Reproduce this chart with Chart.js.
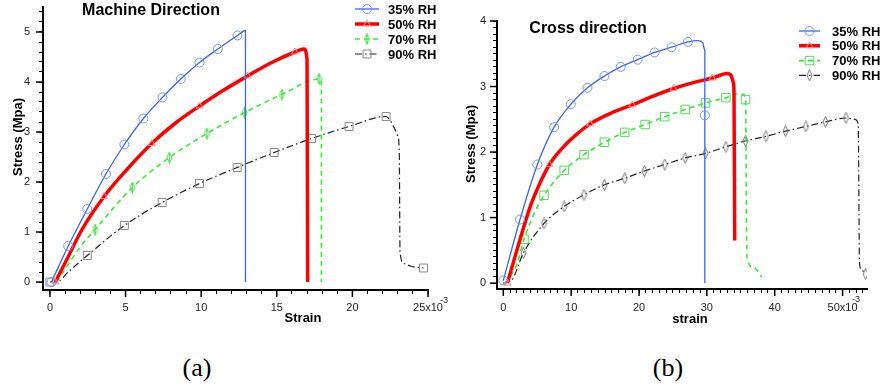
<!DOCTYPE html>
<html lang="en">
<head>
<meta charset="UTF-8">
<title>Stress - strain</title>
<script src="https://cdn.jsdelivr.net/npm/chart.js@4.4.1/dist/chart.umd.min.js"></script>
<style>
  body { margin: 0; background: #fff; }
  #wrap { position: relative; width: 882px; height: 387px; overflow: hidden; background: #fff; }
  canvas { position: absolute; top: 0; }
  .cap { position: absolute; font-family: "Liberation Serif", serif; font-size: 26px; color: #000; transform: translate(-50%, -50%); }
</style>
</head>
<body>
<div id="wrap">
  <canvas id="md" width="470" height="330" style="left:0"></canvas>
  <canvas id="cd" width="442" height="330" style="left:440px"></canvas>
  <div class="cap" style="left:197px;top:368px">(a)</div>
  <div class="cap" style="left:668px;top:368px">(b)</div>
</div>
<script>
// strain in 1e-3, stress in MPa
const rhLabels = ['35% RH', '50% RH', '70% RH', '90% RH'];

// (a) machine direction
const mdStrain35 = [0.1, 1.21, 2.47, 3.7, 4.92, 6.18, 7.44, 8.65, 9.89, 11.1, 12.4, 12.93, 12.93];
const mdStress35 = [0, 0.72, 1.46, 2.16, 2.75, 3.27, 3.69, 4.06, 4.39, 4.66, 4.93, 5.03, 0];
const mdMarks35 = [0, 1, 2, 3, 4, 5, 6, 7, 8, 9, 10];
const mdStrain50 = [0.35, 1.2, 2.1, 3.58, 5.0, 6.73, 8.3, 9.89, 11.5, 13.07, 14.6, 16.2, 16.8, 17.0, 17.04];
const mdStress50 = [0, 0.5, 1.04, 1.71, 2.22, 2.77, 3.18, 3.52, 3.84, 4.12, 4.38, 4.6, 4.66, 4.45, 0];
const mdMarks50 = [0, 3, 5, 7, 9, 11];
const mdStrain70 = [0.44, 2.1, 2.98, 5.45, 7.9, 10.38, 12.87, 15.34, 17.8, 17.95, 17.95];
const mdStress70 = [0, 0.74, 1.05, 1.89, 2.49, 2.97, 3.39, 3.75, 4.06, 4.04, 0];
const mdMarks70 = [2, 3, 4, 5, 6, 7, 8];
const mdStrain90 = [0, 0.45, 1.2, 2.47, 4.92, 7.42, 9.89, 12.38, 14.83, 17.3, 19.78, 22.23, 22.7, 23.0, 23.1, 23.15, 23.4, 23.9, 24.7];
const mdStress90 = [0, 0, 0.2, 0.53, 1.13, 1.59, 1.97, 2.29, 2.59, 2.87, 3.11, 3.31, 3.12, 2.92, 2.6, 0.6, 0.37, 0.31, 0.28];
const mdMarks90 = [0, 3, 4, 5, 6, 7, 8, 9, 10, 11, 18];
const mdXMajor = [0, 5, 10, 15, 20, 25];
const mdXLabels = ['0', '5', '10', '15', '20', '25x10'];
const mdYMajor = [0, 1, 2, 3, 4, 5];

// (b) cross direction
const cdStrain35 = [0, 2.46, 5.02, 7.49, 9.95, 12.4, 14.9, 17.3, 19.8, 22.3, 24.8, 27.2, 28.6, 29.4, 29.7, 29.7, 29.7];
const cdStress35 = [0.04, 0.97, 1.81, 2.38, 2.73, 2.98, 3.16, 3.30, 3.41, 3.52, 3.60, 3.68, 3.70, 3.67, 3.55, 2.56, 0];
const cdMarks35 = [0, 1, 2, 3, 4, 5, 6, 7, 8, 9, 10, 11, 15];
const cdStrain50 = [0.6, 2.0, 3.94, 5.42, 6.8, 8.87, 10.8, 12.8, 16.0, 19.0, 22.0, 25.1, 28.0, 30.8, 33.0, 33.5, 33.9, 34.0, 34.1];
const cdStress50 = [0, 0.5, 1.16, 1.53, 1.81, 2.08, 2.27, 2.43, 2.6, 2.72, 2.85, 2.97, 3.06, 3.13, 3.20, 3.18, 3.06, 2.9, 0.65];
const cdMarks50 = [0, 4, 7, 9, 11, 13];
const cdStrain70 = [0.25, 1.97, 3.05, 4.5, 6.0, 8.97, 11.9, 14.9, 17.9, 20.9, 23.8, 26.8, 29.8, 32.8, 34.5, 35.4, 35.7, 35.9, 36.9, 38.1];
const cdStress70 = [0, 0.28, 0.67, 1.05, 1.34, 1.72, 1.96, 2.15, 2.30, 2.42, 2.54, 2.65, 2.75, 2.83, 2.89, 2.88, 2.80, 0.40, 0.24, 0.09];
const cdMarks70 = [2, 4, 5, 6, 7, 8, 9, 10, 11, 12, 13, 16];
const cdStrain90 = [0, 1.2, 2.96, 6.0, 8.97, 11.9, 14.9, 17.9, 20.8, 23.8, 26.8, 29.8, 32.8, 35.7, 38.7, 41.6, 44.6, 47.5, 50.5, 51.8, 52.3, 52.5, 52.8, 53.4];
const cdStress90 = [0, 0.04, 0.46, 0.91, 1.17, 1.35, 1.50, 1.60, 1.71, 1.81, 1.91, 1.98, 2.08, 2.17, 2.24, 2.32, 2.39, 2.46, 2.52, 2.5, 2.43, 0.3, 0.2, 0.14];
const cdMarks90 = [2, 3, 4, 5, 6, 7, 8, 9, 10, 11, 12, 13, 14, 15, 16, 17, 18, 23];
const cdXMajor = [0, 10, 20, 30, 40, 50];
const cdXLabels = ['0', '10', '20', '30', '40', '50x10'];
const cdYMajor = [0, 1, 2, 3, 4];

Chart.defaults.font.family = '"Liberation Sans", Arial, sans-serif';

function thinDiamond(color, bar) {
    const cv = document.createElement('canvas');
    cv.width = 7; cv.height = 12;
    const g = cv.getContext('2d');
    g.strokeStyle = color; g.lineWidth = 1;
    g.beginPath();
    g.moveTo(3.5, 0.5); g.lineTo(6, 6); g.lineTo(3.5, 11.5); g.lineTo(1, 6); g.closePath();
    g.stroke();
    if (bar) { g.beginPath(); g.moveTo(3.5, 0); g.lineTo(3.5, 12); g.stroke(); }
    return cv;
}

function series(label, xs, ys, marks, st) {
    return {
        label: label,
        data: xs.map((x, i) => ({x: x, y: ys[i]})),
        showLine: true,
        borderColor: st.color,
        borderWidth: st.width,
        borderDash: st.dash || [],
        cubicInterpolationMode: 'monotone',
        pointStyle: st.point,
        pointBorderColor: st.mark,
        pointBackgroundColor: 'rgba(0,0,0,0)',
        pointBorderWidth: 1,
        pointRadius: ctx => marks.includes(ctx.dataIndex) ? st.r : 0,
        pointHoverRadius: ctx => marks.includes(ctx.dataIndex) ? st.r : 0,
        fill: false
    };
}

function drawMark(c, style, r, x, y, color) {
    c.save();
    c.strokeStyle = color; c.lineWidth = 1; c.setLineDash([]);
    if (style instanceof HTMLCanvasElement) {
        c.drawImage(style, x - style.width / 2, y - style.height / 2);
        c.restore();
        return;
    }
    c.beginPath();
    if (style === 'circle') {
        c.arc(x, y, r, 0, Math.PI * 2);
    } else if (style === 'rect') {
        const h = r * Math.SQRT1_2;
        c.rect(x - h, y - h, 2 * h, 2 * h);
    } else if (style === 'triangle') {
        let a = 0;
        c.moveTo(x + Math.sin(a) * r, y - Math.cos(a) * r);
        a += Math.PI * 2 / 3;
        c.lineTo(x + Math.sin(a) * r, y - Math.cos(a) * r);
        a += Math.PI * 2 / 3;
        c.lineTo(x + Math.sin(a) * r, y - Math.cos(a) * r);
        c.closePath();
    }
    c.stroke();
    c.restore();
}

// major ticks, titles, legend
const decor = {
    id: 'decor',
    afterDraw(chart, args, o) {
        const c = chart.ctx;
        const sx = chart.scales.x, sy = chart.scales.y;
        c.save();
        c.strokeStyle = '#000'; c.lineWidth = 1.5;
        o.xMajor.forEach(v => {
            const p = sx.getPixelForValue(v);
            c.beginPath(); c.moveTo(p, sx.top); c.lineTo(p, sx.top + 7); c.stroke();
        });
        o.yMajor.forEach(v => {
            const p = sy.getPixelForValue(v);
            c.beginPath(); c.moveTo(sy.right, p); c.lineTo(sy.right - 7, p); c.stroke();
        });
        c.fillStyle = '#000';
        c.textAlign = 'center'; c.textBaseline = 'middle';
        c.font = 'bold 16px "Liberation Sans", Arial';
        c.fillText(o.title[0], o.title[1], o.title[2]);
        c.font = 'bold 13px "Liberation Sans", Arial';
        c.fillText(o.xTitle[0], o.xTitle[1], o.xTitle[2]);
        c.save();
        c.translate(o.yTitle[1], o.yTitle[2]); c.rotate(-Math.PI / 2);
        c.fillText(o.yTitle[0], 0, 0);
        c.restore();
        c.font = '9px "Liberation Sans", Arial';
        c.fillStyle = '#222';
        c.fillText('-3', o.sup[0], o.sup[1]);
        c.restore();

        const L = o.legend;
        chart.data.datasets.forEach((ds, i) => {
            const y = L.y + i * L.dy;
            c.save();
            c.strokeStyle = ds.borderColor; c.lineWidth = ds.borderWidth;
            c.setLineDash(ds.borderDash);
            c.beginPath(); c.moveTo(L.x0, y); c.lineTo(L.x1, y); c.stroke();
            c.restore();
            drawMark(c, ds.pointStyle, L.r[i], (L.x0 + L.x1) / 2, y, ds.pointBorderColor);
            c.save();
            c.fillStyle = '#000'; c.textAlign = 'left'; c.textBaseline = 'middle';
            c.font = 'bold 13px "Liberation Sans", Arial';
            c.fillText(ds.label, L.tx, y + 1);
            c.restore();
        });
    }
};

function axis(min, max, step, major, labels, fit) {
    return {
        type: 'linear', min: min, max: max,
        border: {color: '#000', width: 2},
        grid: {display: true, drawOnChartArea: false, drawTicks: true, tickLength: 4, color: '#000', tickWidth: 1},
        ticks: {
            stepSize: step, autoSkip: false, includeBounds: false,
            maxRotation: 0, minRotation: 0, padding: fit.pad,
            color: '#222', font: {size: 11},
            callback: v => {
                const k = major.findIndex(m => Math.abs(m - v) < 1e-6);
                return k < 0 ? '' : labels[k];
            }
        },
        afterFit: fit.fn
    };
}

function makeChart(id, datasets, sc, pad, deco) {
    return new Chart(document.getElementById(id), {
        type: 'scatter',
        data: {datasets: datasets},
        options: {
            responsive: false, animation: false, events: [],
            layout: {padding: pad},
            plugins: {legend: {display: false}, tooltip: {enabled: false}, decor: deco},
            scales: sc
        },
        plugins: [decor]
    });
}

const st35 = {color: '#3a66ee', width: 1.3, point: 'circle', mark: '#7592f0', r: 4.5};
const st50 = {color: '#ff0000', width: 3.5, point: 'triangle', mark: '#ff8a8a', r: 4};

makeChart('md', [
    series(rhLabels[0], mdStrain35, mdStress35, mdMarks35, st35),
    series(rhLabels[1], mdStrain50, mdStress50, mdMarks50, st50),
    series(rhLabels[2], mdStrain70, mdStress70, mdMarks70,
        {color: '#33ee33', width: 1.6, dash: [5, 4], point: thinDiamond('#55dd55', true), mark: '#55dd55', r: 4}),
    series(rhLabels[3], mdStrain90, mdStress90, mdMarks90,
        {color: '#222', width: 1.2, dash: [7, 3, 1.5, 3], point: 'rect', mark: '#888', r: 5.6})
], {
    x: axis(-0.46, 25, 1, mdXMajor, mdXLabels, {pad: 7, fn: s => { s.height = 40; s.paddingLeft = 0; s.paddingRight = 0; }}),
    y: axis(-0.16, 5.5, 0.2, mdYMajor, mdYMajor.map(String), {pad: 9, fn: s => { s.width = 43; s.paddingTop = 0; s.paddingBottom = 0; }})
}, {left: 0, top: 7, right: 42, bottom: 0}, {
    xMajor: mdXMajor, yMajor: mdYMajor,
    title: ['Machine Direction', 151, 11],
    xTitle: ['Strain', 303, 318],
    yTitle: ['Stress (Mpa)', 18, 137],
    sup: [444, 301],
    legend: {x0: 355, x1: 379, tx: 388, y: 9, dy: 15, r: [4.5, 4, 4, 5.6]}
});

makeChart('cd', [
    series(rhLabels[0], cdStrain35, cdStress35, cdMarks35, st35),
    series(rhLabels[1], cdStrain50, cdStress50, cdMarks50, st50),
    series(rhLabels[2], cdStrain70, cdStress70, cdMarks70,
        {color: '#33ee33', width: 1.6, dash: [5, 4], point: 'rect', mark: '#55dd55', r: 6}),
    series(rhLabels[3], cdStrain90, cdStress90, cdMarks90,
        {color: '#222', width: 1.2, dash: [7, 3, 1.5, 3], point: thinDiamond('#777', false), mark: '#777', r: 4})
], {
    x: axis(-0.93, 53.6, 1, cdXMajor, cdXLabels, {pad: 8, fn: s => { s.height = 41; s.paddingLeft = 0; s.paddingRight = 0; }}),
    y: axis(-0.09, 4, 0.1, cdYMajor, cdYMajor.map(String), {pad: 7, fn: s => { s.width = 57; s.paddingTop = 0; s.paddingBottom = 0; }})
}, {left: 0, top: 21, right: 15, bottom: 0}, {
    xMajor: cdXMajor, yMajor: cdYMajor,
    title: ['Cross direction', 148, 29],
    xTitle: ['strain', 250, 319],
    yTitle: ['Stress (Mpa)', 31, 144],
    sup: [416, 300],
    legend: {x0: 359, x1: 380, tx: 392, y: 31, dy: 14.8, r: [4.5, 4, 6, 4]}
});
</script>
</body>
</html>
